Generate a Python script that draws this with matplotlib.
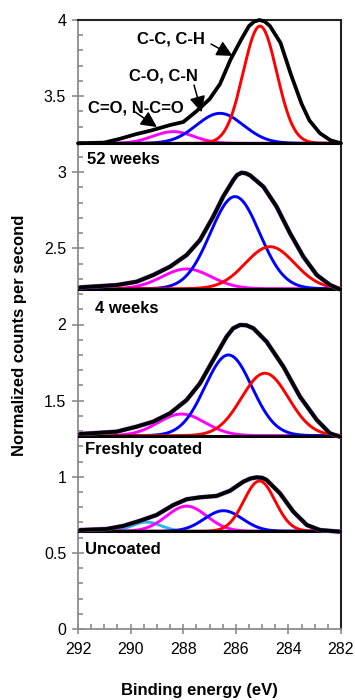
"""
C 1s XPS spectra, stacked
"""

import numpy as np
import matplotlib
matplotlib.use("Agg")
import matplotlib.pyplot as plt
from matplotlib.ticker import MultipleLocator, FuncFormatter

plt.rcParams['font.family'] = ['Liberation Sans', 'DejaVu Sans']

# panel labels and flat background level of each stacked spectrum
panels = ['Uncoated', 'Freshly coated', '4 weeks', '52 weeks']
baselines = [0.642, 1.27, 2.235, 3.19]

# fitted components: centre (eV), height above background, FWHM (eV)
uncoated_peaks = [('cyan', 289.39, 0.060, 1.3),
                  ('magenta', 287.87, 0.165, 1.8),
                  ('blue', 286.47, 0.135, 1.7),
                  ('red', 285.10, 0.330, 1.4)]
fresh_peaks = [('magenta', 288.06, 0.142, 2.1),
               ('blue', 286.28, 0.530, 2.1),
               ('red', 284.89, 0.410, 2.1)]
wk4_peaks = [('magenta', 287.87, 0.130, 2.2),
             ('blue', 286.03, 0.605, 2.2),
             ('red', 284.70, 0.276, 2.2)]
wk52_peaks = [('magenta', 288.38, 0.077, 1.8),
              ('blue', 286.60, 0.197, 2.1),
              ('red', 285.08, 0.770, 1.5)]
all_peaks = [uncoated_peaks, fresh_peaks, wk4_peaks, wk52_peaks]

# measured envelopes (binding energy, counts)
uncoated_be = [291.92, 290.91, 290.28, 289.64, 289.01, 288.38, 287.87, 287.36, 286.73,
               286.22, 285.71, 285.45, 285.21, 285.00, 284.83, 284.32, 283.81, 283.30,
               282.80, 282.04]
uncoated_y = [0.650, 0.657, 0.677, 0.711, 0.749, 0.814, 0.852, 0.865, 0.874,
              0.908, 0.968, 0.988, 0.996, 0.993, 0.979, 0.891, 0.770, 0.683,
              0.650, 0.639]
fresh_be = [291.92, 290.53, 289.77, 289.14, 288.50, 287.87, 287.36, 286.86, 286.35,
            286.10, 285.84, 285.60, 285.33, 284.83, 284.19, 283.56, 282.92, 282.42, 282.04]
fresh_y = [1.281, 1.296, 1.329, 1.362, 1.417, 1.504, 1.614, 1.767, 1.920,
           1.975, 1.997, 1.995, 1.975, 1.887, 1.723, 1.526, 1.373, 1.285, 1.263]
wk4_be = [291.92, 290.53, 289.77, 289.14, 288.50, 287.87, 287.36, 286.86, 286.48, 286.09,
          285.95, 285.78, 285.62, 285.46, 284.95, 284.45, 283.94, 283.43, 282.92, 282.42,
          282.04]
wk4_y = [2.244, 2.259, 2.281, 2.325, 2.380, 2.456, 2.555, 2.708, 2.840, 2.950,
         2.982, 2.997, 2.993, 2.980, 2.905, 2.774, 2.600, 2.445, 2.325, 2.260,
         2.231]
wk52_be = [292.0, 291.0, 290.4, 289.8, 289.2, 288.5, 288.0, 287.5, 287.0, 286.6, 286.2,
           285.8, 285.5, 285.3, 285.1, 284.9, 284.7, 284.3, 283.9, 283.5, 283.2, 282.8,
           282.4, 282.0]
wk52_y = [3.19, 3.195, 3.22, 3.25, 3.275, 3.31, 3.33, 3.40, 3.48, 3.58, 3.74,
          3.87, 3.96, 3.99, 4.00, 3.99, 3.96, 3.85, 3.64, 3.45, 3.34, 3.256,
          3.21, 3.19]
envelopes = [(uncoated_be, uncoated_y), (fresh_be, fresh_y),
             (wk4_be, wk4_y), (wk52_be, wk52_y)]

colors = {'red': '#ff0000', 'blue': '#0000ff', 'magenta': '#ff00ff', 'cyan': '#29b6e8'}


def gauss(x, c, h, fwhm):
    s = fwhm / 2.3548
    return h * np.exp(-(x - c) ** 2 / (2 * s * s))


if __name__ == '__main__':
    fig = plt.figure(figsize=(3.55, 7.0), dpi=100)
    ax = fig.add_axes([78 / 355, 1 - 629 / 700, 263 / 355, 609 / 700])

    x = np.linspace(282, 292, 500)
    for i in range(4):
        b = baselines[i]
        for name, c, h, w in all_peaks[i]:
            ax.plot(x, b + gauss(x, c, h, w), color=colors[name], lw=2.1, zorder=3)
        ax.plot([292, 282], [b, b], color='black', lw=2.2, zorder=4)
        be, yy = envelopes[i]
        if i < 3:
            ax.plot(be, yy, color='#8a55b8', lw=3.3, zorder=5,
                    solid_joinstyle='round', solid_capstyle='round')
        ax.plot(be, yy, color='black', lw=2.7, zorder=6, clip_on=False,
                solid_joinstyle='round', solid_capstyle='round')

    # panel labels
    lab_pos = [(291.73, 0.525), (291.73, 1.176), (291.35, 2.108), (291.67, 3.087)]
    for name, (lx, ly) in zip(panels, lab_pos):
        ax.text(lx, ly, name, fontsize=12, fontweight='bold', va='center', ha='left')

    # peak assignments
    notes = [('C-C, C-H', (289.76, 3.875), (286.94, 3.842), (286.12, 3.764)),
             ('C-O, C-N', (290.06, 3.632), (287.59, 3.573), (287.30, 3.394)),
             ('C=O, N-C=O', (291.62, 3.422), (289.83, 3.396), (289.00, 3.297))]
    for txt, tp, a0, a1 in notes:
        ax.text(tp[0], tp[1], txt, fontsize=12, fontweight='bold', va='center', ha='left',
                zorder=7)
        ax.annotate('', xy=a1, xytext=a0,
                    arrowprops=dict(arrowstyle='-|>,head_length=0.8,head_width=0.4',
                                    mutation_scale=12, color='black', lw=1.1,
                                    shrinkA=0, shrinkB=0),
                    zorder=7)

    ax.set_xlim(292, 282)
    ax.set_ylim(0, 4)
    ax.xaxis.set_major_locator(MultipleLocator(2))
    ax.xaxis.set_minor_locator(MultipleLocator(0.5))
    ax.yaxis.set_major_locator(MultipleLocator(0.5))
    ax.yaxis.set_minor_locator(MultipleLocator(0.1))
    ax.yaxis.set_major_formatter(FuncFormatter(lambda v, p: f'{v:g}'))
    ax.tick_params(which='major', direction='inout', length=9, width=1.2,
                   color='#8c8c8c', labelsize=11.5, pad=4)
    ax.tick_params(which='minor', direction='in', length=3.5, width=1.2, color='#8c8c8c')
    ax.tick_params(axis='x', which='major', length=7, pad=6)
    for side in ['left', 'bottom']:
        ax.spines[side].set_color('#8c8c8c')
        ax.spines[side].set_linewidth(1.3)
    for side in ['right', 'top']:
        ax.spines[side].set_color('#222222')
        ax.spines[side].set_linewidth(1.5)

    fig.text(199 / 355, 1 - 691 / 700, 'Binding energy (eV)', fontsize=12,
             fontweight='bold', ha='center', va='center')
    fig.text(20 / 355, 1 - 335 / 700, 'Normalized counts per second', fontsize=12,
             fontweight='bold', ha='center', va='center', rotation=90)

    fig.savefig('out.png', dpi=100)
